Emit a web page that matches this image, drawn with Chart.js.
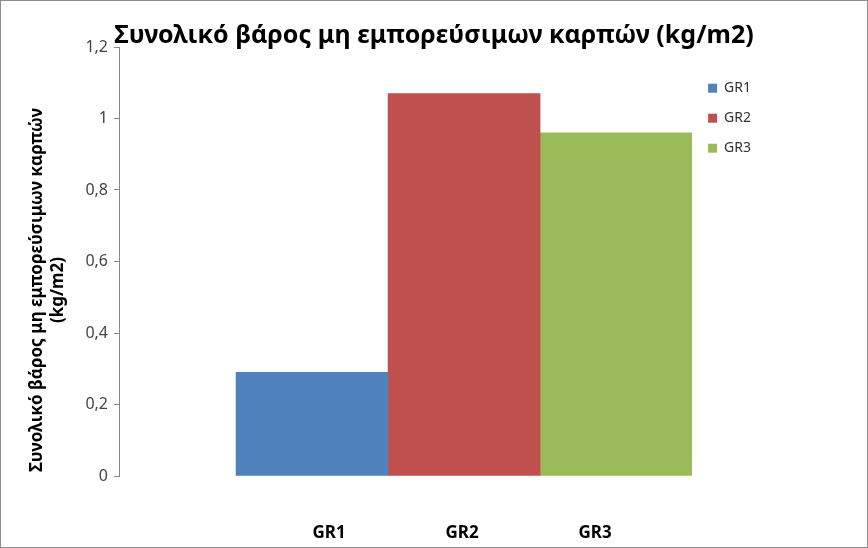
<!DOCTYPE html>
<html>
<head>
<meta charset="utf-8">
<script src="https://cdn.jsdelivr.net/npm/chart.js@4"></script>
<style>
html, body { margin: 0; padding: 0; background: #fff; }
#wrap { width: 868px; height: 548px; position: relative; }
</style>
</head>
<body>
<div id="wrap"><canvas id="chart"></canvas></div>
<script>
const categories = ['GR1', 'GR2', 'GR3'];
const values = [0.29, 1.07, 0.96];
const colors = ['#4F81BD', '#C0504D', '#9BBB59'];
const yTicks = [0, 0.2, 0.4, 0.6, 0.8, 1, 1.2];
const chartTitle = 'Συνολικό βάρος μη εμπορεύσιμων καρπών (kg/m2)';
const yTitle = ['Συνολικό βάρος μη εμπορεύσιμων καρπών', '(kg/m2)'];
const FONT = "'Noto Sans', sans-serif";

// white page + thin grey frame like the exported picture
const framePlugin = {
    id: 'frame',
    beforeDraw(chart) {
        const { ctx, width, height } = chart;
        ctx.save();
        ctx.fillStyle = '#fff';
        ctx.fillRect(0, 0, width, height);
        ctx.strokeStyle = '#8c8c8c';
        ctx.lineWidth = 1;
        ctx.strokeRect(0.5, 0.5, width - 1, height - 1);
        ctx.restore();
    },
    // title is centred on the whole page, not on the padded area
    afterLayout(chart) {
        const t = chart.titleBlock;
        if (!t) return;
        t.left = 0; t.right = chart.width; t.width = chart.width;
    }
};

// rotated two-line y title, Excel puts it a bit below the axis centre
const yTitlePlugin = {
    id: 'yTitle',
    afterDraw(chart) {
        const { ctx, chartArea } = chart;
        ctx.save();
        ctx.translate(0, chartArea.bottom - 186);
        ctx.rotate(-Math.PI / 2);
        ctx.font = 'bold 17px ' + FONT;
        ctx.fillStyle = '#000';
        ctx.textAlign = 'center';
        ctx.textBaseline = 'middle';
        yTitle.forEach((line, i) => ctx.fillText(line, 0, 37 + i * 21));
        ctx.restore();
    }
};

const fmt = v => String(Number(v.toFixed(1))).replace('.', ',');

function initChart() {
    const ctx = document.getElementById('chart').getContext('2d');
    new Chart(ctx, {
        type: 'bar',
        data: {
            datasets: categories.map((c, i) => ({
                label: c,
                xAxisID: 'x',
                data: [{ x: i + 1, y: values[i] }],
                backgroundColor: colors[i],
                borderWidth: 0,
                categoryPercentage: 1,
                barPercentage: 1
            }))
        },
        plugins: [framePlugin, yTitlePlugin],
        options: {
            responsive: true, maintainAspectRatio: false, animation: false, devicePixelRatio: 1,
            layout: { padding: { left: 0, right: 107, top: 0, bottom: 5 } },
            plugins: {
                tooltip: { enabled: false },
                title: { display: true, text: chartTitle, color: '#000', font: { family: FONT, size: 25, weight: 'bold', lineHeight: 0.88 }, padding: { top: 25, bottom: 0 } },
                legend: {
                    position: 'right', align: 'start', fullSize: false,
                    title: { display: true, text: ' ', font: { size: 1 }, padding: { top: 17, bottom: 0 } },
                    labels: { boxWidth: 9, boxHeight: 9, padding: 16, color: '#333', font: { family: FONT, size: 14 } }
                }
            },
            scales: {
                x: { type: 'linear', display: false, offset: false, stacked: true, min: -0.27, max: 3.5, ticks: { stepSize: 1, includeBounds: false } },
                x2: {
                    type: 'linear', position: 'bottom', offset: false, min: -0.58, max: 3.73,
                    grid: { display: false, drawTicks: false }, border: { display: false },
                    afterBuildTicks: s => { s.ticks = categories.map((c, i) => ({ value: i + 1 })); },
                    afterFit: s => { s.height = 67; },
                    ticks: { padding: 47, color: '#000', font: { family: FONT, size: 17, weight: 'bold' }, callback: v => categories[v - 1] || '' }
                },
                y: {
                    stacked: true, min: 0, max: 1.2,
                    afterBuildTicks: s => { s.ticks = yTicks.map(v => ({ value: v })); },
                    afterFit: s => { s.width = 119; },
                    grid: { drawOnChartArea: false, drawTicks: true, tickLength: 5, color: '#868686' },
                    border: { display: true, color: '#868686' },
                    ticks: { padding: 6, color: '#444', font: { family: FONT, size: 16 }, callback: v => fmt(v) }
                }
            }
        }
    });
}

document.addEventListener('DOMContentLoaded', initChart);
</script>
</body>
</html>
